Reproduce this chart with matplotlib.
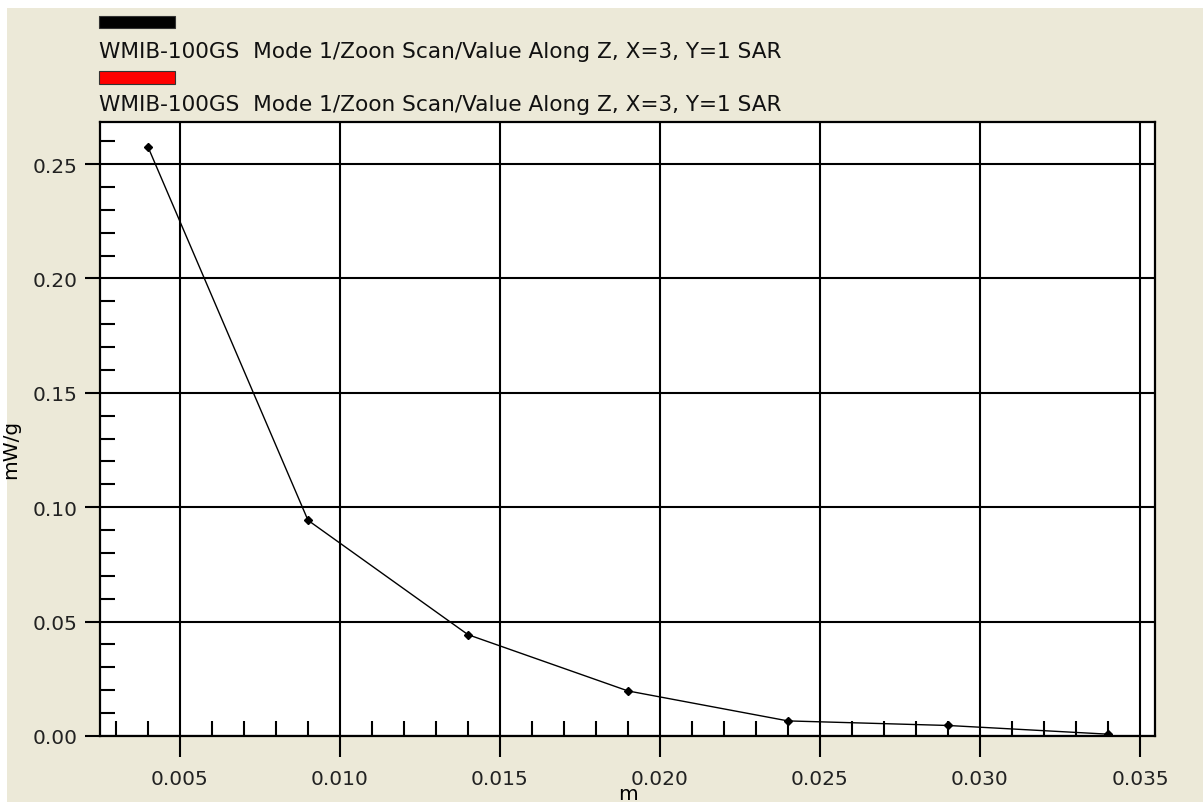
import matplotlib
matplotlib.use("Agg")
import matplotlib.pyplot as plt
from matplotlib.patches import Rectangle
from matplotlib.ticker import MultipleLocator

# data
z_m = [0.004, 0.009, 0.014, 0.019, 0.024, 0.029, 0.034]
sar_mw_g = [0.2575, 0.0943, 0.0443, 0.0197, 0.0066, 0.0046, 0.0008]
legend_labels = [
    "WMIB-100GS  Mode 1/Zoon Scan/Value Along Z, X=3, Y=1 SAR",
    "WMIB-100GS  Mode 1/Zoon Scan/Value Along Z, X=3, Y=1 SAR",
]
legend_colors = ["#000000", "#ff0000"]

W, H = 1203, 803
bg = "#ece9d8"
plt.rcParams["font.family"] = ["DejaVu Sans"]
fs = 14.5

fig = plt.figure(figsize=(W / 100, H / 100), dpi=100)
fig.patch.set_facecolor("white")
# beige panel, leaving thin white strips top and left
fig.patches.append(Rectangle((7 / W, 0), 1, (H - 9) / H, transform=fig.transFigure,
                             facecolor=bg, edgecolor="none", zorder=-10))

left, right, top, bottom = 100, 1155, 123, 737
ax = fig.add_axes([left / W, (H - bottom) / H, (right - left) / W, (bottom - top) / H])
ax.set_facecolor("white")

ax.plot(z_m, sar_mw_g, color="black", lw=1.0, marker="D", ms=4.5, zorder=5)

ax.set_xlim(0.0025, 0.03547)
ax.set_ylim(0.0, 0.2684)
ax.xaxis.set_major_locator(MultipleLocator(0.005))
ax.xaxis.set_minor_locator(MultipleLocator(0.001))
ax.yaxis.set_major_locator(MultipleLocator(0.05))
ax.yaxis.set_minor_locator(MultipleLocator(0.01))
ax.xaxis.set_major_formatter(plt.FormatStrFormatter("%.3f"))
ax.yaxis.set_major_formatter(plt.FormatStrFormatter("%.2f"))

ax.grid(True, which="major", color="black", lw=1.5)
ax.set_axisbelow(True)
for s in ax.spines.values():
    s.set_linewidth(1.6)
    s.set_color("black")

ax.tick_params(axis="x", which="major", direction="out", length=15, width=1.5,
               labelsize=fs, pad=9, colors="black")
ax.tick_params(axis="y", which="major", direction="out", length=11, width=1.5,
               labelsize=fs, pad=5, colors="black")
ax.tick_params(axis="both", which="minor", direction="in", length=11, width=1.5)
for lab in ax.get_xticklabels() + ax.get_yticklabels():
    lab.set_color("#222222")

ax.set_ylabel("mW/g", fontsize=fs)
ax.yaxis.set_label_coords(-0.0758, 0.469)
fig.text(628 / W, (H - 800) / H, "m", ha="center", va="baseline", fontsize=fs)

# legend drawn as in the original tool: bar swatch above each label
bar_y = [(17, 29), (72, 85)]
text_y = [52, 105]
for (y0, y1), ty, c, lbl in zip(bar_y, text_y, legend_colors, legend_labels):
    fig.patches.append(Rectangle((99 / W, (H - y1) / H), 76 / W, (y1 - y0) / H,
                                 transform=fig.transFigure, facecolor=c,
                                 edgecolor="#333333", lw=0.8))
    fig.text(99 / W, (H - ty) / H, lbl, ha="left", va="center", fontsize=15.6,
             color="#111111")

fig.savefig("out.png", dpi=100, facecolor=fig.get_facecolor())
